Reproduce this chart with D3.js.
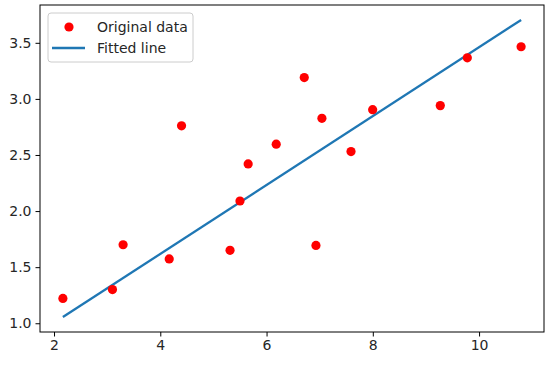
<!DOCTYPE html>
<html>
<head>
<meta charset="utf-8">
<script src="https://cdn.jsdelivr.net/npm/d3@7"></script>
<style>
  body { margin: 0; background: #fff; }
  svg { font-family: "DejaVu Sans", sans-serif; }
</style>
</head>
<body>
<div id="chart"></div>
<script>
var xTrain = [3.3, 4.4, 5.5, 6.71, 6.93, 4.168, 9.779, 6.182, 7.59, 2.167, 7.042, 10.791, 5.313, 7.997, 5.654, 9.27, 3.1];
var yTrain = [1.7, 2.76, 2.09, 3.19, 1.694, 1.573, 3.366, 2.596, 2.53, 1.221, 2.827, 3.465, 1.65, 2.904, 2.42, 2.94, 1.3];
var fitX = [2.167, 10.791];
var fitY = [1.055, 3.704];
var xTicks = [2, 4, 6, 8, 10];
var yTicks = [1.0, 1.5, 2.0, 2.5, 3.0, 3.5];
var legendLabels = ['Original data', 'Fitted line'];

var W = 553, H = 368;
var margin = { top: 5, right: 9, bottom: 36, left: 40 };
var fontSize = '14px';

var svg = d3.select('#chart').append('svg')
  .attr('width', W)
  .attr('height', H);

var x = d3.scaleLinear()
  .domain([1.736, 11.222])
  .range([margin.left, W - margin.right]);
var y = d3.scaleLinear()
  .domain([0.922, 3.837])
  .range([H - margin.bottom, margin.top]);

// fitted line
var line = d3.line()
  .x(function (d, i) { return x(fitX[i]); })
  .y(function (d, i) { return y(fitY[i]); });
svg.append('path')
  .datum(fitX)
  .attr('d', line)
  .attr('fill', 'none')
  .attr('stroke', '#1f77b4')
  .attr('stroke-width', 2.3);

// points
svg.selectAll('circle.pt')
  .data(xTrain)
  .enter().append('circle')
  .attr('class', 'pt')
  .attr('cx', function (d) { return x(d); })
  .attr('cy', function (d, i) { return y(yTrain[i]); })
  .attr('r', 4.6)
  .attr('fill', '#ff0000');

// axes
var xAxis = svg.append('g')
  .attr('transform', 'translate(0,' + (H - margin.bottom) + ')')
  .call(d3.axisBottom(x).tickValues(xTicks).tickSize(4.5).tickPadding(4).tickFormat(d3.format('d')));
var yAxis = svg.append('g')
  .attr('transform', 'translate(' + margin.left + ',0)')
  .call(d3.axisLeft(y).tickValues(yTicks).tickSize(4.5).tickPadding(4).tickFormat(d3.format('.1f')));

[xAxis, yAxis].forEach(function (a) {
  a.select('.domain').remove();
  a.selectAll('line').attr('stroke', '#000').attr('stroke-width', 1);
  a.selectAll('text').attr('fill', '#262626').style('font-size', fontSize).style('font-family', '"DejaVu Sans", sans-serif');
});

// frame
svg.append('rect')
  .attr('x', margin.left)
  .attr('y', margin.top)
  .attr('width', W - margin.left - margin.right)
  .attr('height', H - margin.top - margin.bottom)
  .attr('fill', 'none')
  .attr('stroke', '#000')
  .attr('stroke-width', 1);

// legend
var lg = svg.append('g').attr('transform', 'translate(48,13)');
lg.append('rect')
  .attr('width', 145)
  .attr('height', 49)
  .attr('rx', 3)
  .attr('fill', '#fff')
  .attr('fill-opacity', 0.8)
  .attr('stroke', '#ccc')
  .attr('stroke-width', 1);
lg.append('circle')
  .attr('cx', 21)
  .attr('cy', 14)
  .attr('r', 4.6)
  .attr('fill', '#ff0000');
lg.append('line')
  .attr('x1', 4).attr('x2', 37)
  .attr('y1', 35).attr('y2', 35)
  .attr('stroke', '#1f77b4')
  .attr('stroke-width', 2.3);
lg.selectAll('text')
  .data(legendLabels)
  .enter().append('text')
  .attr('x', 49)
  .attr('y', function (d, i) { return 14 + i * 21; })
  .attr('dy', '0.35em')
  .attr('fill', '#262626')
  .style('font-size', fontSize)
  .text(function (d) { return d; });
</script>
</body>
</html>
